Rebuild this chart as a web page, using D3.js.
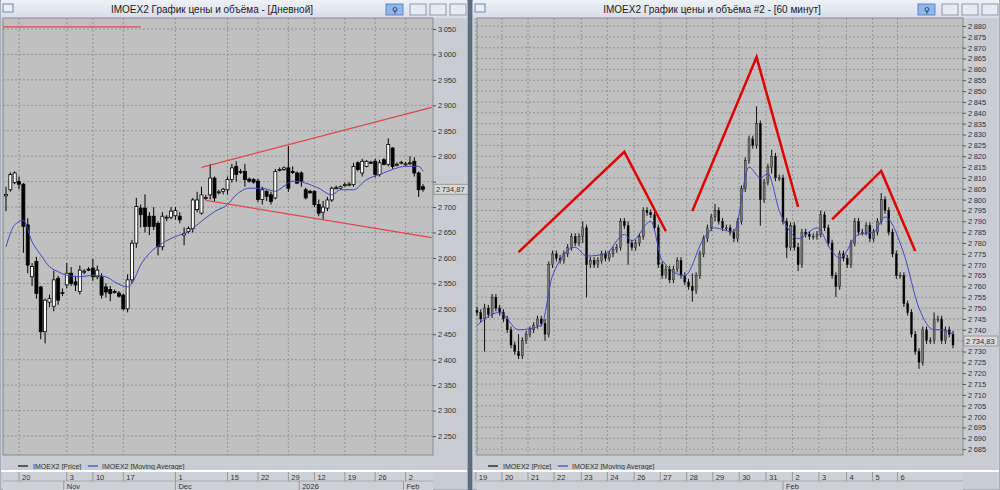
<!DOCTYPE html>
<html><head><meta charset="utf-8">
<script src="https://cdn.jsdelivr.net/npm/d3@7"></script>
<style>body{margin:0;background:#d8dde6;}svg{display:block;font-family:"Liberation Sans",Arial,sans-serif;}</style>
</head><body><svg id="c" width="1000" height="490"></svg>
<script>
// ---------- LEFT (daily) data ----------
const dOpen  = [2722,2734,2748,2750,2745,2665,2563,2593,2543,2455,2513,2505,2560,2532,2547,2570,2553,2534,2572,2578,2580,2563,2563,2543,2538,2534,2531,2527,2500,2557,2629,2698,2698,2682,2682,2668,2622,2678,2680,2683,2682,2645,2652,2658,2695,2688,2718,2724,2757,2729,2731,2734,2754,2780,2770,2770,2755,2754,2751,2715,2731,2724,2718,2773,2774,2777,2770,2767,2767,2734,2731,2731,2705,2690,2698,2714,2738,2737,2744,2745,2744,2787,2767,2780,2788,2790,2764,2793,2784,2816,2784,2787,2784,2787,2790,2767,2740];
const dHigh  = [2740,2768,2770,2760,2747,2678,2590,2602,2545,2520,2528,2575,2565,2540,2590,2582,2565,2585,2578,2582,2598,2585,2570,2550,2545,2538,2535,2530,2568,2635,2718,2705,2725,2690,2700,2672,2690,2684,2700,2700,2690,2660,2662,2718,2730,2740,2724,2785,2760,2734,2738,2760,2785,2790,2775,2785,2758,2757,2756,2740,2734,2730,2775,2778,2780,2820,2780,2770,2770,2738,2734,2733,2715,2712,2720,2740,2742,2742,2748,2749,2787,2790,2795,2792,2791,2795,2793,2796,2835,2818,2788,2791,2789,2800,2798,2770,2745];
const dLow   = [2692,2730,2745,2735,2610,2570,2545,2520,2440,2432,2503,2495,2508,2525,2540,2545,2535,2528,2568,2574,2555,2558,2520,2522,2515,2530,2522,2497,2493,2550,2620,2660,2650,2645,2655,2605,2615,2672,2676,2675,2668,2625,2648,2650,2690,2685,2714,2715,2712,2725,2725,2725,2748,2750,2765,2740,2748,2746,2710,2705,2712,2705,2715,2770,2771,2730,2765,2745,2740,2715,2726,2700,2682,2675,2692,2710,2735,2735,2740,2741,2740,2770,2760,2778,2785,2758,2760,2782,2780,2775,2780,2784,2781,2783,2760,2720,2730];
const dClose = [2725,2764,2767,2745,2662,2586,2583,2530,2455,2517,2520,2557,2517,2530,2570,2550,2547,2576,2574,2577,2563,2576,2527,2533,2530,2533,2525,2500,2557,2629,2701,2685,2662,2662,2662,2622,2682,2680,2692,2693,2675,2648,2658,2714,2714,2724,2719,2757,2718,2730,2735,2754,2777,2764,2770,2754,2751,2749,2715,2734,2721,2711,2770,2774,2777,2737,2768,2747,2751,2718,2728,2705,2688,2700,2714,2737,2738,2740,2744,2745,2780,2774,2790,2790,2787,2764,2787,2784,2823,2780,2784,2788,2785,2787,2767,2734,2735];
const dMA = [[0,2622],[2,2665],[4,2674],[6,2632],[8,2606],[10,2583],[12,2573],[14,2566],[17,2563],[20,2566],[23,2563],[25,2553],[28,2543],[29,2550],[31,2586],[33,2609],[36,2629],[39,2642],[42,2652],[45,2672],[48,2691],[51,2705],[53,2724],[56,2737],[59,2737],[62,2731],[64,2741],[66,2751],[69,2747],[72,2737],[75,2724],[77,2734],[80,2734],[83,2754],[86,2764],[89,2774],[92,2780],[95,2780],[96,2770]];
const dTicks = [2250,2300,2350,2400,2450,2500,2550,2600,2650,2700,2750,2800,2850,2900,2950,3000,3050];
const dDays = [["20",3],["3",14],["10",20],["17",27],["1",39],["15",51],["22",58],["29",65],["12",71],["19",78],["26",85],["2",92]];
const dMonths = [["Nov",13.3],["Dec",39],["2026",67.5],["Feb",91.5]];
const dLines = [[[45,2778],[98,2896]],[[46,2713],[98,2640]],[[-0.7,3054],[31,3054]]];
const dLast = 2734.87;

// ---------- RIGHT (hourly) data ----------
const hClose = [2748,2745,2750,2747,2755,2750,2748,2745,2740,2733,2730,2728,2735,2738,2740,2742,2745,2743,2738,2770,2775,2773,2772,2775,2778,2783,2780,2783,2787,2770,2772,2770,2772,2775,2773,2775,2777,2778,2790,2788,2780,2778,2780,2783,2795,2794,2793,2787,2770,2765,2768,2763,2768,2772,2765,2762,2760,2758,2765,2775,2782,2787,2792,2795,2790,2787,2787,2785,2782,2790,2805,2818,2828,2825,2835,2800,2808,2815,2820,2810,2810,2790,2778,2788,2778,2770,2785,2784,2783,2783,2784,2793,2787,2780,2765,2760,2775,2773,2770,2780,2790,2785,2785,2788,2782,2785,2790,2800,2795,2785,2775,2765,2765,2752,2748,2738,2730,2725,2740,2735,2735,2745,2745,2735,2740,2738,2733];
const hSpikes = [[2,2752,2730],[4,2756,2748],[11,2738,2727],[18,2745,2735],[28,2790,2780],[29,2786,2755],[40,2790,2770],[44,2796,2783],[57,2766,2753],[63,2798,2790],[74,2843,2825],[75,2835,2788],[78,2823,2812],[82,2790,2773],[85,2780,2767],[91,2795,2784],[95,2765,2755],[107,2803,2790],[117,2730,2722],[121,2748,2740]];
const hMA = [[0,2742],[6,2748],[11,2740],[17,2742],[20,2765],[26,2778],[29,2774],[34,2775],[39,2784],[41,2781],[46,2790],[49,2772],[55,2765],[60,2782],[63,2787],[68,2785],[72,2815],[75,2810],[77,2812],[80,2795],[83,2785],[85,2782],[90,2787],[94,2776],[96,2773],[101,2784],[105,2785],[108,2792],[113,2775],[117,2750],[121,2740],[123,2740],[126,2738]];
const hTicks = d3.range(2685, 2881, 5);
const hDays = [["19",-0.3],["20",6.6],["21",13.5],["22",20.4],["23",27.6],["24",34.5],["26",41.6],["27",48.5],["28",55.5],["29",62.4],["30",69.4],["31",76.5],["2",83.5],["3",90.5],["4",97.8],["5",104.7],["6",111.3]];
const hMonths = [["Feb",81]];
const hLines = [[[11,2775.8],[39,2822],[50,2785.4]],[[57,2794.8],[74,2865.7],[85,2796.6]],[[94,2790.9],[107,2813.2],[116,2776.3]]];
const hLast = 2734.83;

const svg = d3.select("#c");
const fmt = v => d3.format(",")(v).replace(",", "\u2009");
const fmt2 = v => d3.format(",.2f")(v).replace(",", "\u2009").replace(".", ",");

function panel(o){
  const g = svg.append("g");
  g.append("rect").attr("x",o.x0).attr("y",0).attr("width",o.x1-o.x0).attr("height",490).attr("fill","#c9ccd2").attr("stroke","#8a94a3");
  const tg = svg.append("defs").append("linearGradient").attr("id","tg"+o.id).attr("x1",0).attr("x2",0).attr("y1",0).attr("y2",1);
  tg.append("stop").attr("offset",0).attr("stop-color","#eef2f7");
  tg.append("stop").attr("offset",1).attr("stop-color","#d6dde8");
  g.append("rect").attr("x",o.x0+1).attr("y",0).attr("width",o.x1-o.x0-2).attr("height",18).attr("fill",`url(#tg${o.id})`);
  g.append("rect").attr("x",o.x0+3).attr("y",4).attr("width",10).attr("height",8).attr("fill","#e8eef6").attr("stroke","#6a87b0");
  g.append("text").attr("x",o.titleX).attr("y",13).attr("text-anchor","middle").attr("font-size",10).attr("fill","#222").text(o.title);
  const bx = o.x1-82;
  g.append("rect").attr("x",bx).attr("y",4).attr("width",17).attr("height",11).attr("fill","#8fb7ee").attr("stroke","#5a86c6");
  g.append("text").attr("x",bx+8.5).attr("y",13).attr("text-anchor","middle").attr("font-size",8).attr("fill","#223").text("⚲");
  [24,44,64].forEach(d=>g.append("rect").attr("x",bx+d).attr("y",4).attr("width",16).attr("height",11).attr("fill","#e6ebf2").attr("stroke","#8e9aab"));
  const pl=o.pl, pr=o.pr, pt=18, pb=455;
  g.append("rect").attr("x",pl).attr("y",pt).attr("width",pr-pl).attr("height",pb-pt).attr("fill","#c0c0c0").attr("stroke","#8c8c8c");
  const y = d3.scaleLinear().domain(o.ydom).range([pb,pt]);
  const x = d3.scaleLinear().domain(o.xdom).range(o.xrng);
  const grid = g.append("g").attr("stroke","#8a8a8a").attr("stroke-dasharray","2,2").attr("stroke-width",0.8);
  o.ticks.forEach(t=>grid.append("line").attr("x1",pl).attr("x2",pr).attr("y1",y(t)).attr("y2",y(t)));
  o.days.forEach(d=>grid.append("line").attr("x1",x(d[1])).attr("x2",x(d[1])).attr("y1",pt).attr("y2",pb));
  const ax = g.append("g").attr("transform",`translate(${pr},0)`).call(d3.axisRight(y).tickValues(o.ticks).tickSize(3).tickFormat(fmt));
  ax.select(".domain").remove();
  ax.selectAll("text").attr("font-size",7.5).attr("fill","#333").attr("x",5)
    .attr("display",d=>Math.abs(y(d)-y(o.last))<8?"none":null);
  ax.selectAll("line").attr("stroke","#555");
  const cg = g.append("g");
  o.candles.forEach((c,i)=>{
    const cx = x(i);
    cg.append("line").attr("x1",cx).attr("x2",cx).attr("y1",y(c.h)).attr("y2",y(c.l)).attr("stroke",o.wick).attr("stroke-width",1);
    const up = c.c>=c.o;
    cg.append("rect").attr("x",cx-o.cw/2).attr("width",o.cw).attr("y",y(Math.max(c.o,c.c))).attr("height",Math.max(1,Math.abs(y(c.o)-y(c.c))))
      .attr("fill",up?o.upFill:"#000").attr("stroke",o.wick).attr("stroke-width",o.cw>2?0.8:0.4);
  });
  g.append("path").datum(o.ma).attr("fill","none").attr("stroke","#4646c8").attr("stroke-width",1)
    .attr("d",d3.line().x(d=>x(d[0])).y(d=>y(d[1])).curve(d3.curveMonotoneX));
  o.lines.forEach(l=>g.append("path").datum(l).attr("fill","none").attr("stroke",o.redCol).attr("stroke-width",o.redW)
    .attr("d",d3.line().x(d=>x(d[0])).y(d=>y(d[1]))));
  const ly=y(o.last);
  g.append("rect").attr("x",pr+1).attr("y",ly-5).attr("width",34).attr("height",10).attr("fill","#d8d8d8").attr("stroke","#999");
  g.append("text").attr("x",pr+3).attr("y",ly+3).attr("font-size",7.5).attr("fill","#333").text(fmt2(o.last));
  const lg=g.append("g").attr("font-size",7).attr("fill","#333");
  lg.append("line").attr("x1",o.legX).attr("x2",o.legX+10).attr("y1",466).attr("y2",466).attr("stroke","#333").attr("stroke-width",1.5);
  lg.append("text").attr("x",o.legX+15).attr("y",468.5).text("IMOEX2 [Price]");
  lg.append("line").attr("x1",o.legX+70).attr("x2",o.legX+80).attr("y1",466).attr("y2",466).attr("stroke","#5a5ac8").attr("stroke-width",1.5);
  lg.append("text").attr("x",o.legX+84).attr("y",468.5).text("IMOEX2 [Moving Average]");
  g.append("line").attr("x1",o.x0+1).attr("x2",o.x1-1).attr("y1",471).attr("y2",471).attr("stroke","#fff").attr("stroke-width",2);
  g.append("rect").attr("x",pl).attr("y",472).attr("width",pr-pl).attr("height",18).attr("fill","#cfd1d6");
  g.append("line").attr("x1",pl).attr("x2",pr).attr("y1",481).attr("y2",481).attr("stroke","#aaa");
  o.days.forEach(d=>{
    const xx=x(d[1]);
    g.append("line").attr("x1",xx).attr("x2",xx).attr("y1",472).attr("y2",481).attr("stroke","#999");
    g.append("text").attr("x",xx+3).attr("y",479.5).attr("font-size",7.5).attr("fill","#333").text(d[0]);
  });
  o.months.forEach(m=>{
    const xx=x(m[1]);
    g.append("line").attr("x1",xx).attr("x2",xx).attr("y1",481).attr("y2",490).attr("stroke","#999");
    g.append("text").attr("x",xx+3).attr("y",489).attr("font-size",7.5).attr("fill","#333").text(m[0]);
  });
}

const dCandles = dClose.map((c,i)=>({o:dOpen[i],h:dHigh[i],l:dLow[i],c}));
const spikeMap = new Map(hSpikes.map(s=>[s[0],s]));
const hCandles = hClose.map((c,i)=>{
  const o = i? hClose[i-1] : c+1;
  let h=Math.max(o,c)+1.5, l=Math.min(o,c)-1.5;
  if(spikeMap.has(i)){const s=spikeMap.get(i); h=Math.max(h,s[1]); l=Math.min(l,s[2]);}
  return {o,h,l,c};
});

panel({id:"L",x0:0,x1:468,title:"IMOEX2 График цены и объёма - [Дневной]",titleX:212,pl:3,pr:433,
  ydom:[2212.7,3071.6],xdom:[0,96],xrng:[6,423],ticks:dTicks,days:dDays,months:dMonths,candles:dCandles,
  ma:dMA,lines:dLines,last:dLast,cw:3,wick:"#000",upFill:"#fff",redCol:"#e04848",redW:1.2,legX:18});
panel({id:"R",x0:472,x1:1000,title:"IMOEX2 График цены и объёма #2 - [60 минут]",titleX:712,pl:477,pr:963,
  ydom:[2682.3,2883.7],xdom:[0,126],xrng:[477,953],ticks:hTicks,days:hDays,months:hMonths,candles:hCandles,
  ma:hMA,lines:hLines,last:hLast,cw:2,wick:"#111",upFill:"#777",redCol:"#e00000",redW:2.5,legX:488});
svg.append("rect").attr("x",468).attr("y",0).attr("width",4).attr("height",490).attr("fill","#5b6b80");
</script></body></html>
